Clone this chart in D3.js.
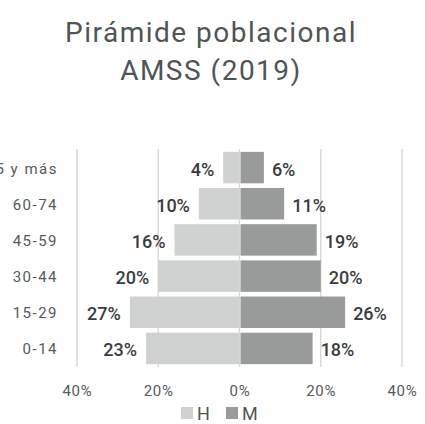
<!DOCTYPE html>
<html>
<head>
<meta charset="utf-8">
<script src="https://cdn.jsdelivr.net/npm/d3@7"></script>
<style>
  body { margin: 0; background: #fff; }
  svg { display: block; font-family: Roboto, sans-serif; }
</style>
</head>
<body>
<svg id="chart"></svg>
<script>
// age groups, top to bottom
const groups = ['65 y más', '60-74', '45-59', '30-44', '15-29', '0-14'];
const hombres = [4, 10, 16, 20, 27, 23];
const mujeres = [6, 11, 19, 20, 26, 18];
const ticks = [-40, -20, 0, 20, 40];
const series = ['H', 'M'];

const width = 425, height = 424;
const colors = {H: '#d0d1d1', M: '#999b9b'};

const svg = d3.select('#chart')
  .attr('width', width)
  .attr('height', height);

const data = groups.map((g, i) => ({group: g, H: hombres[i], M: mujeres[i]}));

const x = d3.scaleLinear()
  .domain([-40, 40])
  .range([77, 402]);

const y = d3.scaleBand()
  .domain(groups)
  .range([149.5, 366.5])
  .paddingInner(0.13)
  .paddingOuter(0.065);

// title
svg.append('text')
  .attr('x', 211)
  .attr('y', 42)
  .attr('text-anchor', 'middle')
  .style('font-size', '28px')
  .style('letter-spacing', '1.5px')
  .style('fill', '#4f5455')
  .text('Pirámide poblacional');
svg.append('text')
  .attr('x', 211)
  .attr('y', 80)
  .attr('text-anchor', 'middle')
  .style('font-size', '28px')
  .style('letter-spacing', '1.5px')
  .style('fill', '#4f5455')
  .text('AMSS (2019)');

// grid lines
svg.append('g')
  .selectAll('line')
  .data(ticks)
  .join('line')
  .attr('x1', d => x(d))
  .attr('x2', d => x(d))
  .attr('y1', 149)
  .attr('y2', 367)
  .style('stroke', '#d9d9d9')
  .style('stroke-width', 1.5);

// bars
svg.append('g')
  .selectAll('rect')
  .data(data)
  .join('rect')
  .attr('x', d => x(-d.H))
  .attr('y', d => y(d.group))
  .attr('width', d => x(0) - x(-d.H))
  .attr('height', y.bandwidth())
  .style('fill', colors.H);

svg.append('g')
  .selectAll('rect')
  .data(data)
  .join('rect')
  .attr('x', x(0) + 1)
  .attr('y', d => y(d.group))
  .attr('width', d => x(d.M) - x(0) - 1)
  .attr('height', y.bandwidth())
  .style('fill', colors.M);

// value labels
svg.append('g')
  .selectAll('text')
  .data(data)
  .join('text')
  .attr('x', d => x(-d.H) - 9)
  .attr('y', d => y(d.group) + y.bandwidth() / 2 + 8)
  .attr('text-anchor', 'end')
  .style('font-size', '18px')
  .style('font-weight', 500)
  .style('fill', '#3a3d3e')
  .text(d => d.H + '%');

svg.append('g')
  .selectAll('text')
  .data(data)
  .join('text')
  .attr('x', d => x(d.M) + 8)
  .attr('y', d => y(d.group) + y.bandwidth() / 2 + 8)
  .attr('text-anchor', 'start')
  .style('font-size', '18px')
  .style('font-weight', 500)
  .style('fill', '#3a3d3e')
  .text(d => d.M + '%');

// y axis labels
const yAxis = svg.append('g')
  .attr('transform', 'translate(68,0)')
  .call(d3.axisLeft(y).tickSize(0).tickPadding(10));
yAxis.select('.domain').remove();
yAxis.selectAll('text')
  .attr('dy', '0.4em')
  .style('font-family', 'Roboto, sans-serif')
  .style('font-size', '15px')
  .style('letter-spacing', '1.5px')
  .style('fill', '#555a5b');

// x axis labels
const xAxis = svg.append('g')
  .attr('transform', 'translate(0,385)')
  .call(d3.axisBottom(x).tickValues(ticks).tickSize(0).tickPadding(0)
    .tickFormat(d => Math.abs(d) + '%'));
xAxis.select('.domain').remove();
xAxis.selectAll('text')
  .style('font-family', 'Roboto, sans-serif')
  .style('font-size', '15px')
  .style('letter-spacing', '0.8px')
  .style('fill', '#555a5b');

// legend
const legend = svg.append('g')
  .selectAll('g')
  .data(series)
  .join('g')
  .attr('transform', (d, i) => `translate(${181 + i * 45},407)`);
legend.append('rect')
  .attr('width', 12)
  .attr('height', 12)
  .style('fill', d => colors[d]);
legend.append('text')
  .attr('x', 16)
  .attr('y', 13)
  .style('font-size', '18px')
  .style('fill', '#4f5455')
  .text(d => d);
</script>
</body>
</html>
